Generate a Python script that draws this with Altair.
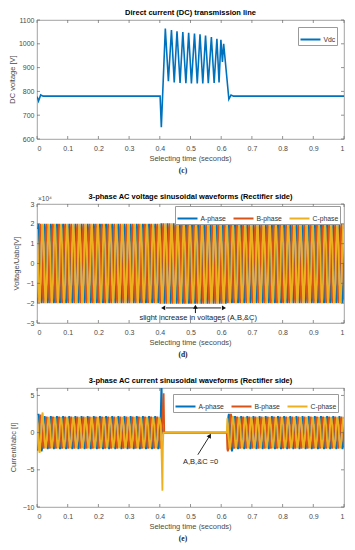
import altair as alt
import pandas as pd

# ---------------- data ----------------
# (c) DC link voltage, vertices (time s, volts)
dc_time = [0.0, 0.003, 0.005, 0.012, 0.02, 0.40, 0.401, 0.405, 0.418, 0.428,
           0.438, 0.447, 0.456, 0.466, 0.475, 0.485, 0.494, 0.503, 0.513, 0.522,
           0.531, 0.540, 0.549, 0.558, 0.568, 0.577, 0.586, 0.593, 0.599, 0.604,
           0.608, 0.625, 0.632, 0.64, 1.0]
dc_volt = [778, 768, 760, 785, 780, 780, 780, 650, 1064, 843,
           1058, 838, 1053, 836, 1049, 834, 1046, 833, 1043, 833,
           1040, 833, 1035, 834, 1028, 835, 1021, 838, 1017, 924,
           1000, 767, 785, 780, 780]

x_ticks = [0, 0.1, 0.2, 0.3, 0.4, 0.5, 0.6, 0.7, 0.8, 0.9, 1]
dc_ticks = [600, 700, 800, 900, 1000, 1100]
v_ticks = [-3, -2, -1, 0, 1, 2, 3]
i_ticks = [-10, -5, 0, 5]

phase_names = ["A-phase", "B-phase", "C-phase"]
phase_colors = ["#0072BD", "#D95319", "#EDB120"]

# one 50 Hz cycle, normalised, sampled every 30 degrees
cycle_shape = [0.0, 0.5, 0.87, 1.0, 0.87, 0.5, 0.0, -0.5, -0.87, -1.0, -0.87, -0.5]
phase_lag_samples = [0, 4, 8]
cycle_period = 0.02

# (d) voltage peak per cycle (x 1e4 V)
volt_amp_A = [2.00, 2.00, 2.00, 2.00, 2.00, 2.00, 2.00, 2.00, 2.00, 2.00,
              2.00, 2.00, 2.00, 2.00, 2.00, 2.00, 2.00, 2.00, 2.00, 2.00,
              2.02, 2.03, 2.03, 2.03, 2.03, 2.03, 2.03, 2.03, 2.03, 2.03,
              2.02, 2.00, 2.00, 2.00, 2.00, 2.00, 2.00, 2.00, 2.00, 2.00,
              2.00, 2.00, 2.00, 2.00, 2.00, 2.00, 2.00, 2.00, 2.00, 2.00]
volt_amp_B = [2.00, 2.00, 2.00, 2.00, 2.00, 2.00, 2.00, 2.00, 2.00, 2.00,
              2.00, 2.00, 2.00, 2.00, 2.00, 2.00, 2.00, 2.00, 2.00, 2.00,
              2.02, 2.03, 2.03, 2.03, 2.03, 2.03, 2.03, 2.03, 2.03, 2.03,
              2.02, 2.00, 2.00, 2.00, 2.00, 2.00, 2.00, 2.00, 2.00, 2.00,
              2.00, 2.00, 2.00, 2.00, 2.00, 2.00, 2.00, 2.00, 2.00, 2.00]
volt_amp_C = [2.00, 2.00, 2.00, 2.00, 2.00, 2.00, 2.00, 2.00, 2.00, 2.00,
              2.00, 2.00, 2.00, 2.00, 2.00, 2.00, 2.00, 2.00, 2.00, 2.00,
              2.02, 2.03, 2.03, 2.03, 2.03, 2.03, 2.03, 2.03, 2.03, 2.03,
              2.02, 2.00, 2.00, 2.00, 2.00, 2.00, 2.00, 2.00, 2.00, 2.00,
              2.00, 2.00, 2.00, 2.00, 2.00, 2.00, 2.00, 2.00, 2.00, 2.00]

# (e) current peak per cycle (A); None = fault cycle given by vertices below
cur_amp_A = [2.50, 2.20, 2.20, 2.20, 2.20, 2.20, 2.20, 2.20, 2.20, 2.20,
             2.20, 2.20, 2.20, 2.20, 2.20, 2.20, 2.20, 2.20, 2.20, 2.20,
             None, 0.0, 0.0, 0.0, 0.0, 0.0, 0.0, 0.0, 0.0, 0.0,
             0.0, 2.50, 2.20, 2.20, 2.20, 2.20, 2.20, 2.20, 2.20, 2.20,
             2.20, 2.20, 2.20, 2.20, 2.20, 2.20, 2.20, 2.20, 2.20, 2.20]
cur_amp_B = [2.40, 2.15, 2.15, 2.15, 2.15, 2.15, 2.15, 2.15, 2.15, 2.15,
             2.15, 2.15, 2.15, 2.15, 2.15, 2.15, 2.15, 2.15, 2.15, 2.15,
             None, 0.0, 0.0, 0.0, 0.0, 0.0, 0.0, 0.0, 0.0, 0.0,
             0.0, 2.50, 2.15, 2.15, 2.15, 2.15, 2.15, 2.15, 2.15, 2.15,
             2.15, 2.15, 2.15, 2.15, 2.15, 2.15, 2.15, 2.15, 2.15, 2.15]
cur_amp_C = [2.70, 2.10, 2.10, 2.10, 2.10, 2.10, 2.10, 2.10, 2.10, 2.10,
             2.10, 2.10, 2.10, 2.10, 2.10, 2.10, 2.10, 2.10, 2.10, 2.10,
             None, 0.0, 0.0, 0.0, 0.0, 0.0, 0.0, 0.0, 0.0, 0.0,
             0.0, 2.20, 2.10, 2.10, 2.10, 2.10, 2.10, 2.10, 2.10, 2.10,
             2.10, 2.10, 2.10, 2.10, 2.10, 2.10, 2.10, 2.10, 2.10, 2.10]
fault_t_A = [0.400, 0.4025, 0.4055, 0.4085, 0.410, 0.420]
fault_v_A = [0.0, 1.6, 6.8, 1.0, 0.0, 0.0]
fault_t_B = [0.400, 0.4017, 0.405, 0.409, 0.4125, 0.4145, 0.420]
fault_v_B = [-1.86, -2.15, -1.0, 2.0, 5.3, 0.0, 0.0]
fault_t_C = [0.400, 0.4033, 0.4065, 0.4085, 0.410, 0.4115, 0.420]
fault_v_C = [1.82, 1.0, -4.0, -7.8, -2.0, 0.0, 0.0]

# annotations
v_note_text = ["slight increase in voltages (A,B,&C)"]
v_note_pos = [0.525, -2.75]
v_span = [0.42, 0.60, -2.24]
v_heads = [0.411, 0.609]
v_up = [0.516, -2.5, -2.18]
i_note_text = ["A,B,&C =0"]
i_note_pos = [0.533, -4.0]
i_arrow = [0.524, -2.97, 0.563, -0.4]

# ---------------- helpers ----------------
W = 307
H = 119
FONT = "Liberation Sans"
GREY = "#4a4a4a"
TICK = "#666666"
AC_WIDTH = 1.8


def build_wave(amps, faults):
    rows = []
    n = len(cycle_shape)
    for p, name in enumerate(phase_names):
        lag = phase_lag_samples[p]
        for c, a in enumerate(amps[p]):
            if a is None:
                ft, fv = faults[p]
                for t, v in zip(ft, fv):
                    rows.append((name, t, v))
                continue
            for k in range(n):
                rows.append((name, c * cycle_period + k * cycle_period / n,
                             a * cycle_shape[(k - lag) % n]))
        rows.append((name, 1.0, amps[p][-1] * cycle_shape[(-lag) % n]))
    return pd.DataFrame(rows, columns=["phase", "t", "v"])


def x_enc():
    return alt.X("t:Q", scale=alt.Scale(domain=[0, 1], nice=False),
                 axis=alt.Axis(values=x_ticks, format="~g", title=None, grid=False,
                               domain=False, ticks=False, labelPadding=5))


def make_y(domain, ticks):
    def y_enc():
        return alt.Y("v:Q", scale=alt.Scale(domain=domain, nice=False),
                     axis=alt.Axis(values=ticks, format="d", title=None, grid=False,
                                   domain=False, ticks=False, labelPadding=3))
    return y_enc


def legend(x, y, n):
    return alt.Legend(title=None, orient="none", legendX=x, legendY=y,
                      direction="horizontal", columns=n, symbolType="stroke",
                      symbolSize=400, symbolStrokeWidth=2, labelFontSize=6.8,
                      labelFont=FONT, labelColor="#333333", strokeColor="#9a9a9a",
                      fillColor="white", padding=1.5, columnPadding=3,
                      labelOffset=2, rowPadding=0)


def frame_ticks(y_enc, yticks):
    """Inward MATLAB-style tick marks on all four sides."""
    xt = pd.DataFrame({"t": x_ticks})
    yt = pd.DataFrame({"v": yticks})
    rule = dict(color=TICK, strokeWidth=0.7)
    return [
        alt.Chart(xt).mark_rule(**rule).encode(x=x_enc(), y=alt.value(H - 3), y2=alt.value(H)),
        alt.Chart(xt).mark_rule(**rule).encode(x=x_enc(), y=alt.value(0), y2=alt.value(3)),
        alt.Chart(yt).mark_rule(**rule).encode(y=y_enc(), x=alt.value(0), x2=alt.value(3)),
        alt.Chart(yt).mark_rule(**rule).encode(y=y_enc(), x=alt.value(W - 3), x2=alt.value(W)),
    ]


def texts(title, ytitle, ytitle_x, label):
    one = lambda s: pd.DataFrame({"s": [s]})
    return [
        alt.Chart(one(title)).mark_text(font=FONT, fontSize=7.5, fontWeight="bold",
                                        color="black").encode(
            x=alt.value(W / 2), y=alt.value(-7), text="s:N"),
        alt.Chart(one("Selecting time (seconds)")).mark_text(font=FONT, fontSize=7.5,
                                                             color=GREY).encode(
            x=alt.value(W / 2), y=alt.value(H + 19.5), text="s:N"),
        alt.Chart(one(ytitle)).mark_text(font=FONT, fontSize=7.5, color=GREY,
                                         angle=270).encode(
            x=alt.value(ytitle_x), y=alt.value(H / 2), text="s:N"),
        alt.Chart(one(label)).mark_text(font="Liberation Serif", fontWeight="bold",
                                        fontSize=7.5, color="#222222").encode(
            x=alt.value(146), y=alt.value(H + 32), text="s:N"),
    ]


# ---------------- panel (c) ----------------
dc_y = make_y([600, 1100], dc_ticks)
dc_df = pd.DataFrame({"t": dc_time, "v": dc_volt, "series": "Vdc"})
dc_line = alt.Chart(dc_df).mark_line(strokeWidth=1.6, clip=True).encode(
    x=x_enc(), y=dc_y(),
    color=alt.Color("series:N", scale=alt.Scale(domain=["Vdc"], range=["#0072BD"]),
                    legend=legend(261, 7, 1)),
)
panel_c = alt.layer(dc_line, *frame_ticks(dc_y, dc_ticks),
                    *texts("Direct current (DC) transmission line", "DC voltage [V]", -24, "(c)")
                    ).properties(width=W, height=H)

# ---------------- panel (d) ----------------
v_y = make_y([-3, 3], v_ticks)
v_df = build_wave([volt_amp_A, volt_amp_B, volt_amp_C], [None, None, None])
v_layers = []
for name in phase_names:
    v_layers.append(
        alt.Chart(v_df[v_df.phase == name]).mark_line(strokeWidth=AC_WIDTH, clip=True).encode(
            x=x_enc(), y=v_y(),
            color=alt.Color("phase:N", scale=alt.Scale(domain=phase_names, range=phase_colors),
                            legend=legend(138, 2, 3)),
        ))
v_span_df = pd.DataFrame({"t": [v_span[0]], "t2": [v_span[1]], "v": [v_span[2]]})
v_span_rule = alt.Chart(v_span_df).mark_rule(color="#222222", strokeWidth=1).encode(
    x=x_enc(), x2="t2:Q", y=v_y())
v_head_df = pd.DataFrame({"t": v_heads, "v": [v_span[2], v_span[2]],
                          "shape": ["triangle-left", "triangle-right"]})
v_head_pts = alt.Chart(v_head_df).mark_point(filled=True, size=22, color="#111111", opacity=1).encode(
    x=x_enc(), y=v_y(), shape=alt.Shape("shape:N", scale=None))
v_up_df = pd.DataFrame({"t": [v_up[0]], "v": [v_up[1]], "v2": [v_up[2]]})
v_up_rule = alt.Chart(v_up_df).mark_rule(color="#111111", strokeWidth=1).encode(
    x=x_enc(), y=v_y(), y2="v2:Q")
v_up_head = alt.Chart(pd.DataFrame({"t": [v_up[0]], "v": [v_up[2]]})).mark_point(
    shape="triangle-up", filled=True, size=22, color="#111111", opacity=1).encode(
    x=x_enc(), y=v_y())
v_note = alt.Chart(pd.DataFrame({"t": [v_note_pos[0]], "v": [v_note_pos[1]], "txt": v_note_text})).mark_text(
    font=FONT, fontSize=7.5, color="#222222").encode(x=x_enc(), y=v_y(), text="txt:N")
v_exp = alt.Chart(pd.DataFrame({"lab": ["×10⁴"]})).mark_text(
    font=FONT, fontSize=6.5, color=GREY, align="left", baseline="middle").encode(
    x=alt.value(1), y=alt.value(-5.5), text="lab:N")
panel_d = alt.layer(*v_layers, v_span_rule, v_head_pts, v_up_rule, v_up_head, v_note, v_exp,
                    *frame_ticks(v_y, v_ticks),
                    *texts("3-phase AC voltage sinusoidal waveforms (Rectifier side)",
                           "Voltage/Uabc[V]", -20, "(d)")
                    ).properties(width=W, height=H)

# ---------------- panel (e) ----------------
i_y = make_y([-10, 6], i_ticks)
i_df = build_wave([cur_amp_A, cur_amp_B, cur_amp_C],
                  [(fault_t_A, fault_v_A), (fault_t_B, fault_v_B), (fault_t_C, fault_v_C)])
i_layers = []
for name in phase_names:
    i_layers.append(
        alt.Chart(i_df[i_df.phase == name]).mark_line(strokeWidth=AC_WIDTH, clip=True).encode(
            x=x_enc(), y=i_y(),
            color=alt.Color("phase:N", scale=alt.Scale(domain=phase_names, range=phase_colors),
                            legend=legend(136, 6, 3)),
        ))
i_arrow_df = pd.DataFrame({"t": [i_arrow[0]], "v": [i_arrow[1]], "t2": [i_arrow[2]], "v2": [i_arrow[3]]})
i_arrow_rule = alt.Chart(i_arrow_df).mark_rule(color="#111111", strokeWidth=0.9).encode(
    x=x_enc(), y=i_y(), x2="t2:Q", y2="v2:Q")
i_arrow_head = alt.Chart(pd.DataFrame({"t": [i_arrow[2]], "v": [i_arrow[3]]})).mark_point(
    shape="triangle-up", filled=True, size=24, angle=31, color="#111111", opacity=1).encode(
    x=x_enc(), y=i_y())
i_note = alt.Chart(pd.DataFrame({"t": [i_note_pos[0]], "v": [i_note_pos[1]], "txt": i_note_text})).mark_text(
    font=FONT, fontSize=7.5, color="#222222").encode(x=x_enc(), y=i_y(), text="txt:N")
panel_e = alt.layer(*i_layers, i_arrow_rule, i_arrow_head, i_note,
                    *frame_ticks(i_y, i_ticks),
                    *texts("3-phase AC current sinusoidal waveforms (Rectifier side)",
                           "Current/Iabc [I]", -23, "(e)")
                    ).properties(width=W, height=H)

chart = alt.vconcat(panel_c, panel_d, panel_e, spacing=17).resolve_scale(
    color="independent").resolve_legend(color="independent").properties(
    padding={"left": 0, "top": 0, "right": 0, "bottom": 0}
).configure_view(stroke="#8a8a8a", strokeWidth=0.8).configure_axis(
    labelFont=FONT, labelFontSize=7, labelColor=GREY)

chart.save("out.html", embed_options={"renderer": "svg", "actions": False})
